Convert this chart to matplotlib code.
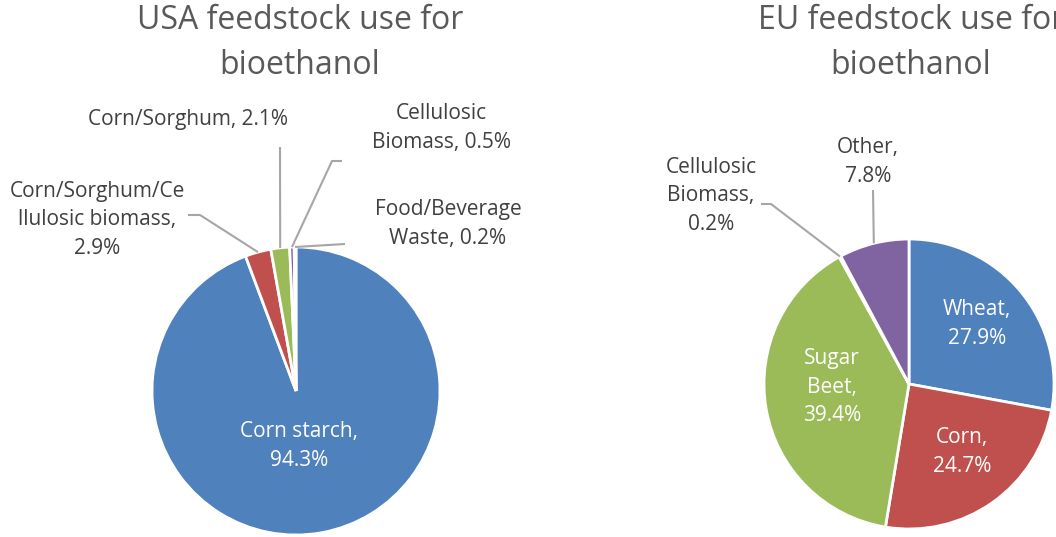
import numpy as np
import matplotlib
matplotlib.use("Agg")
import matplotlib.pyplot as plt

plt.rcParams['font.family'] = ['Open Sans', 'DejaVu Sans']

# feedstock shares (%), clockwise from 12 o'clock
usa_labels = ["Corn starch", "Corn/Sorghum/Ce\nllulosic biomass", "Corn/Sorghum",
              "Cellulosic\nBiomass", "Food/Beverage\nWaste"]
usa_values = [94.3, 2.9, 2.1, 0.5, 0.2]
eu_labels = ["Wheat", "Corn", "Sugar\nBeet", "Cellulosic\nBiomass", "Other"]
eu_values = [27.9, 24.7, 39.4, 0.2, 7.8]

usa_colors = ["#4F81BD", "#C0504D", "#9BBB59", "#8064A2", "#4BACC6"]
eu_colors = ["#4F81BD", "#C0504D", "#9BBB59", "#4BACC6", "#8064A2"]

W, H = 1056, 537
fig = plt.figure(figsize=(W / 100, H / 100), dpi=100)
ax = fig.add_axes([0, 0, 1, 1])


def py(y):
    # pixel row (top-down) -> data y (bottom-up)
    return H - y


def label_text(name, v, sep):
    return f"{name},{sep}{v:.1f}%"


def draw_pie(values, labels, colors, cx, cy, r, title, title_x, layout):
    wedges, _ = ax.pie(values, colors=colors, startangle=90, counterclock=False,
                       center=(cx, py(cy)), radius=r,
                       wedgeprops=dict(edgecolor="white", linewidth=2))
    ax.text(title_x, py(43), title, ha="center", va="center", fontsize=23,
            color="#595959", linespacing=1.45, clip_on=False)
    for w, name, v, lay in zip(wedges, labels, values, layout):
        kind, tx, ty, sep, path = lay
        txt = label_text(name, v, sep)
        col = "white" if kind == "in" else "#404040"
        ax.text(tx, py(ty), txt, ha="center", va="center", fontsize=15,
                color=col, linespacing=1.45, multialignment="center")
        if path:
            ang = np.deg2rad((w.theta1 + w.theta2) / 2)
            ax0 = cx + r * np.cos(ang)
            ay0 = py(cy) + r * np.sin(ang)
            xs = [ax0] + [p[0] for p in path]
            ys = [ay0] + [py(p[1]) for p in path]
            ax.plot(xs, ys, color="#A6A6A6", lw=1.5, solid_capstyle="butt")


usa_layout = [
    ("in", 299, 446, "\n", None),
    ("out", 97, 220, "\n", [(200, 215), (188, 215)]),
    ("out", 188, 119, " ", [(280, 147)]),
    ("out", 441, 128, " ", [(332, 161), (342, 161)]),
    ("out", 448, 224, " ", [(345, 244)]),
]

eu_layout = [
    ("in", 977, 324, "\n", None),
    ("in", 962, 452, "\n", None),
    ("in", 832, 387, "\n", None),
    ("out", 711, 196, "\n", [(771, 204), (761, 204)]),
    ("out", 868, 162, "\n", [(873, 190)]),
]

draw_pie(usa_values, usa_labels, usa_colors, 296, 391, 144,
         "USA feedstock use for\nbioethanol", 300, usa_layout)
draw_pie(eu_values, eu_labels, eu_colors, 909, 384, 145,
         "EU feedstock use for\nbioethanol", 911, eu_layout)

ax.set_xlim(0, W)
ax.set_ylim(0, H)
ax.set_aspect("equal")
ax.axis("off")

fig.savefig("out.png", dpi=100)
